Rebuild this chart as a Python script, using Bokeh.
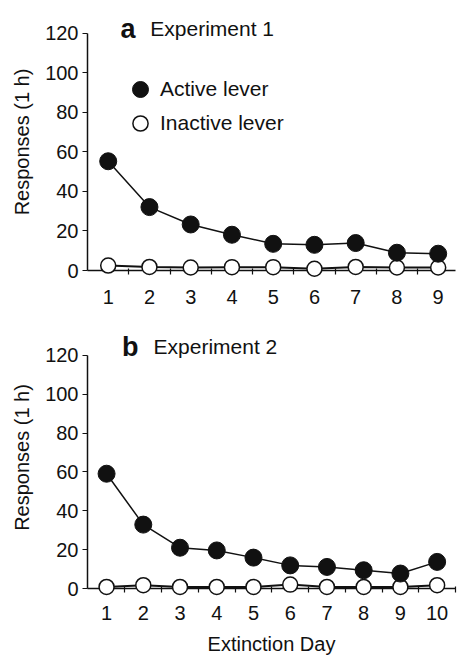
from bokeh.plotting import figure
from bokeh.models import Range1d, FixedTicker, Legend, LegendItem, Label
from bokeh.layouts import column
from bokeh.embed import file_html
from bokeh.resources import INLINE

# ---- data ----
days_a = [1, 2, 3, 4, 5, 6, 7, 8, 9]
active_a = [55.3, 32.1, 23.3, 18.1, 13.5, 13.0, 13.9, 9.0, 8.5]
inactive_a = [2.5, 1.8, 1.5, 1.7, 1.7, 0.9, 1.8, 1.5, 1.5]

days_b = [1, 2, 3, 4, 5, 6, 7, 8, 9, 10]
active_b = [59.1, 32.9, 21.0, 19.6, 15.9, 11.9, 11.1, 9.4, 7.7, 13.7]
inactive_b = [0.8, 1.7, 0.8, 0.8, 0.8, 2.0, 0.8, 0.8, 0.8, 1.7]

y_ticks = [0, 20, 40, 60, 80, 100, 120]
series_names = ["Active lever", "Inactive lever"]
panel_letters = ["a", "b"]
panel_titles = ["Experiment 1", "Experiment 2"]
y_title = "Responses (1 h)"
x_title = "Extinction Day"

FONT = "Liberation Sans"
INK = "#111111"


def make_panel(days, active, inactive, letter, title, x_start, x_end, y_end,
               height, b_left, b_right, b_top, b_bottom, show_xtitle, title_pos,
               label_standoff):
    p = figure(width=458, height=height, output_backend="svg", toolbar_location=None,
               x_range=Range1d(x_start, x_end), y_range=Range1d(0, y_end),
               min_border_left=b_left, min_border_right=b_right,
               min_border_top=b_top, min_border_bottom=b_bottom)
    p.outline_line_color = None
    p.grid.visible = False
    p.background_fill_color = "white"
    p.border_fill_color = "white"

    # x axis
    xa = p.xaxis[0]
    xa.ticker = FixedTicker(ticks=days, minor_ticks=[d + 0.5 for d in days])
    xa.major_tick_out = 0
    xa.major_tick_in = 0
    xa.minor_tick_out = 4
    xa.minor_tick_in = 2
    xa.axis_line_color = INK
    xa.axis_line_width = 1.5
    xa.minor_tick_line_color = INK
    xa.minor_tick_line_width = 1.2
    xa.major_label_text_font = FONT
    xa.major_label_text_font_size = "20px"
    xa.major_label_text_color = INK
    xa.major_label_standoff = label_standoff
    if show_xtitle:
        xa.axis_label = x_title
        xa.axis_label_text_font = FONT
        xa.axis_label_text_font_size = "20px"
        xa.axis_label_text_font_style = "normal"
        xa.axis_label_text_color = INK
        xa.axis_label_standoff = 10

    # y axis
    ya = p.yaxis[0]
    ya.ticker = FixedTicker(ticks=y_ticks)
    ya.bounds = (0, 120)
    ya.major_tick_out = 5
    ya.major_tick_in = 0
    ya.minor_tick_out = 0
    ya.minor_tick_in = 0
    ya.axis_line_color = INK
    ya.axis_line_width = 1.5
    ya.major_tick_line_color = INK
    ya.major_tick_line_width = 1.2
    ya.major_label_text_font = FONT
    ya.major_label_text_font_size = "20px"
    ya.major_label_text_color = INK
    ya.major_label_standoff = 4
    ya.axis_label = y_title
    ya.axis_label_text_font = FONT
    ya.axis_label_text_font_size = "20px"
    ya.axis_label_text_font_style = "normal"
    ya.axis_label_text_color = INK
    ya.axis_label_standoff = 9

    # series
    p.line(days, inactive, line_color=INK, line_width=2, level="overlay")
    p.line(days, active, line_color=INK, line_width=1.5, level="overlay")
    r_in = p.scatter(days, inactive, size=15, marker="circle", fill_color="white",
                     line_color=INK, line_width=1.5, level="overlay")
    r_act = p.scatter(days, active, size=17, marker="circle", fill_color=INK,
                      line_color=INK, line_width=1, level="overlay")

    # panel title
    lx, ex, ty = title_pos
    p.add_layout(Label(x=lx, y=ty, text=letter, text_font=FONT, text_font_size="27px",
                       text_font_style="bold", text_color=INK, text_baseline="alphabetic"))
    p.add_layout(Label(x=ex, y=ty, text=title, text_font=FONT, text_font_size="21px",
                       text_color=INK, text_baseline="alphabetic"))
    return p, r_act, r_in


pa, ra_act, ra_in = make_panel(days_a, active_a, inactive_a, panel_letters[0], panel_titles[0],
                               0.498, 9.42, 130.1, 310, 87, 3, 13, 40, False,
                               (1.30, 2.02, 122.5), 15)
pb, _, _ = make_panel(days_b, active_b, inactive_b, panel_letters[1], panel_titles[1],
                      0.481, 10.5, 134.9, 347, 85, 0, 16, 68, True,
                      (1.42, 2.28, 124.6), 13)

leg1 = Legend(items=[LegendItem(label=series_names[0], renderers=[ra_act])],
              location=(33, 161), glyph_width=40, glyph_height=40, label_height=40,
              label_standoff=0, padding=0, margin=0, border_line_color=None,
              background_fill_alpha=0, label_text_font=FONT, label_text_font_size="21px",
              label_text_color=INK)
leg2 = Legend(items=[LegendItem(label=series_names[1], renderers=[ra_in])],
              location=(33, 128), glyph_width=40, glyph_height=38, label_height=38,
              label_standoff=0, padding=0, margin=0, border_line_color=None,
              background_fill_alpha=0, label_text_font=FONT, label_text_font_size="21px",
              label_text_color=INK)
pa.add_layout(leg1)
pa.add_layout(leg2)

layout = column(pa, pb, spacing=0)
open("out.html", "w").write(file_html(layout, INLINE))
